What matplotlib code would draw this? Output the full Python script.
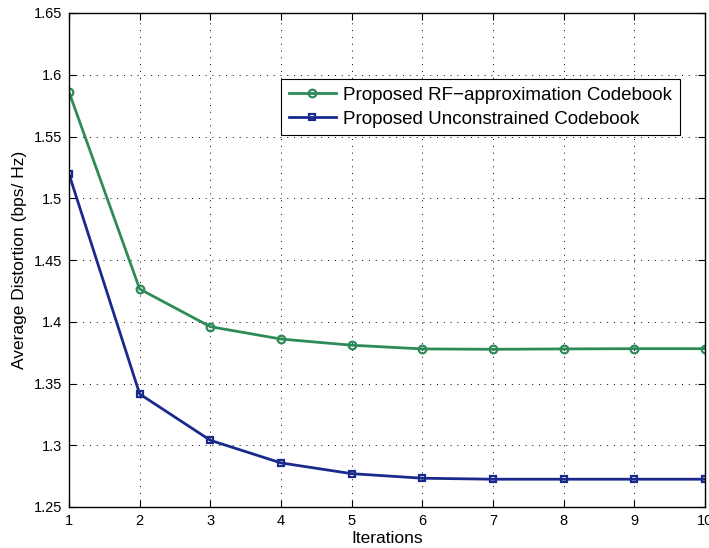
import numpy as np
import matplotlib.pyplot as plt

plt.rcParams['font.family'] = ['Liberation Sans', 'DejaVu Sans']

iterations = [1, 2, 3, 4, 5, 6, 7, 8, 9, 10]
rf_approx = [1.586, 1.4265, 1.396, 1.386, 1.381, 1.378, 1.3777, 1.378, 1.3782, 1.3782]
unconstrained = [1.5196, 1.3415, 1.304, 1.2857, 1.277, 1.2733, 1.2725, 1.2725, 1.2725, 1.2725]

green = '#2e8b57'
blue = '#1a2a8c'

fig = plt.figure(figsize=(7.09, 5.48), dpi=100)
ax = fig.add_axes([69 / 709, 1 - 507 / 548, 636 / 709, 494 / 548])

ax.plot(iterations, rf_approx, '-o', color=green, lw=2, ms=5.5, mfc='none', mew=1.6,
        label='Proposed RF\u2212approximation Codebook')
ax.plot(iterations, unconstrained, '-s', color=blue, lw=2, ms=5, mfc='none', mew=1.6,
        label='Proposed Unconstrained Codebook')

ax.set_xlim(1, 10)
ax.set_ylim(1.25, 1.65)
ax.set_xticks(iterations)
ax.set_yticks(np.arange(1.25, 1.651, 0.05))
ax.set_yticklabels(['1.25', '1.3', '1.35', '1.4', '1.45', '1.5', '1.55', '1.6', '1.65'])
ax.tick_params(direction='in', top=True, right=True, labelsize=10.5, length=5, pad=5)
ax.grid(True, linestyle=(0, (1, 6)), color='black', linewidth=0.7)
for s in ax.spines.values():
    s.set_linewidth(1.0)

ax.set_xlabel('Iterations', fontsize=12.5, labelpad=2)
ax.set_ylabel('Average Distortion (bps/ Hz)', fontsize=12.5, labelpad=5)

leg = ax.legend(loc='upper right', bbox_to_anchor=(0.96, 0.866), fontsize=13.5,
                fancybox=False, framealpha=1, edgecolor='black',
                handlelength=2.5, borderpad=0.4, labelspacing=0.35, handletextpad=0.4,
                borderaxespad=0)
leg.get_frame().set_linewidth(0.8)

fig.savefig('out.png', dpi=100)
